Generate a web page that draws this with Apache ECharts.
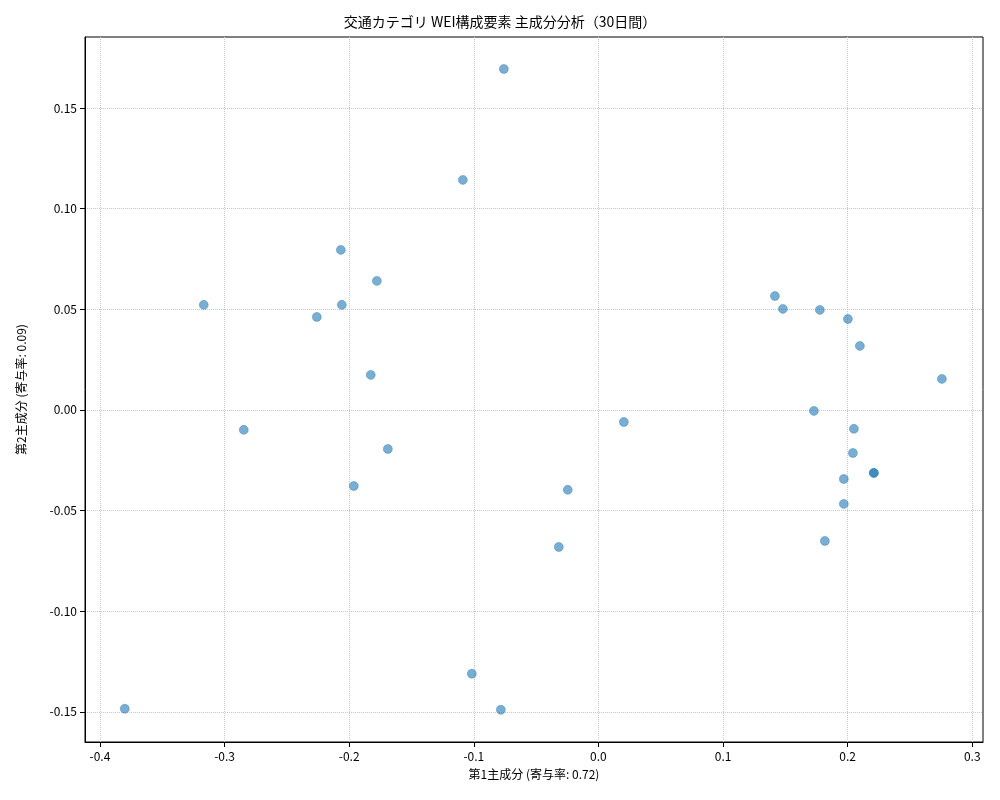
<!DOCTYPE html>
<html><head><meta charset="utf-8">
<script src="https://cdn.jsdelivr.net/npm/echarts@6/dist/echarts.min.js"></script>
<style>html,body{margin:0;padding:0;background:#fff}#c{width:1000px;height:800px}</style>
</head><body><div id="c"></div>
<script>
const pc1 = [-0.0759,-0.1088,-0.2067,-0.1778,-0.3167,-0.2059,-0.2260,-0.1827,-0.2846,-0.1690,-0.1963,-0.0246,0.0204,-0.0318,-0.1016,-0.0783,-0.3801,0.1416,0.1480,0.1777,0.2002,0.2098,0.2756,0.1729,0.2050,0.2042,0.2210,0.2210,0.1969,0.1969,0.1817];
const pc2 = [0.1694,0.1143,0.0795,0.0641,0.0522,0.0522,0.0462,0.0174,-0.0099,-0.0194,-0.0378,-0.0397,-0.0060,-0.0681,-0.1311,-0.1490,-0.1485,0.0566,0.0502,0.0497,0.0452,0.0318,0.0154,-0.0005,-0.0094,-0.0214,-0.0313,-0.0313,-0.0343,-0.0467,-0.0651];
const xTicks = [-0.4,-0.3,-0.2,-0.1,0.0,0.1,0.2,0.3];
const yTicks = [-0.15,-0.10,-0.05,0.00,0.05,0.10,0.15];
const F = "'Noto Sans CJK JP','DejaVu Sans',sans-serif";
const chart = echarts.init(document.getElementById('c'));
const gl = {color:'#c8c8c8',type:'dotted',width:1};
chart.setOption({
  animation:false,
  title:{text:'交通カテゴリ WEI構成要素 主成分分析（30日間）',left:'center',top:10,textStyle:{fontFamily:F,fontSize:14,fontWeight:'normal',color:'#000'}},
  grid:{left:85,right:17,top:37,bottom:58},
  xAxis:{type:'value',min:-0.412,max:0.3086,
    name:'第1主成分 (寄与率: 0.72)',nameLocation:'middle',nameGap:26,nameTextStyle:{fontFamily:F,fontSize:12,color:'#000'},
    axisLine:{onZero:false,lineStyle:{color:'#000'}},
    axisTick:{show:true,customValues:xTicks,lineStyle:{color:'#000'}},
    axisLabel:{fontFamily:F,fontSize:12,color:'#000',customValues:xTicks,formatter:v=>v.toFixed(1)},
    splitLine:{show:false}},
  yAxis:{type:'value',min:-0.165,max:0.1853,
    name:'第2主成分 (寄与率: 0.09)',nameLocation:'middle',nameGap:58,nameTextStyle:{fontFamily:F,fontSize:12,color:'#000'},
    axisLine:{onZero:false,lineStyle:{color:'#000'}},
    axisTick:{show:true,customValues:yTicks,lineStyle:{color:'#000'}},
    axisLabel:{fontFamily:F,fontSize:12,color:'#000',customValues:yTicks,formatter:v=>v.toFixed(2)},
    splitLine:{show:false}},
  series:[{type:'scatter',symbolSize:9,data:pc1.map((x,i)=>[x,pc2[i]]),
    itemStyle:{color:'rgba(31,119,180,0.75)',borderColor:'rgba(31,119,180,0.9)',borderWidth:0.5},
    markLine:{silent:true,symbol:'none',label:{show:false},lineStyle:gl,z:0,
      data:[...xTicks.map(v=>({xAxis:v})),...yTicks.map(v=>({yAxis:v}))]}}],
  graphic:[{type:'rect',shape:{x:85,y:37,width:898,height:705},style:{fill:'none',stroke:'#000',lineWidth:1},silent:true}]
});
</script></body></html>
